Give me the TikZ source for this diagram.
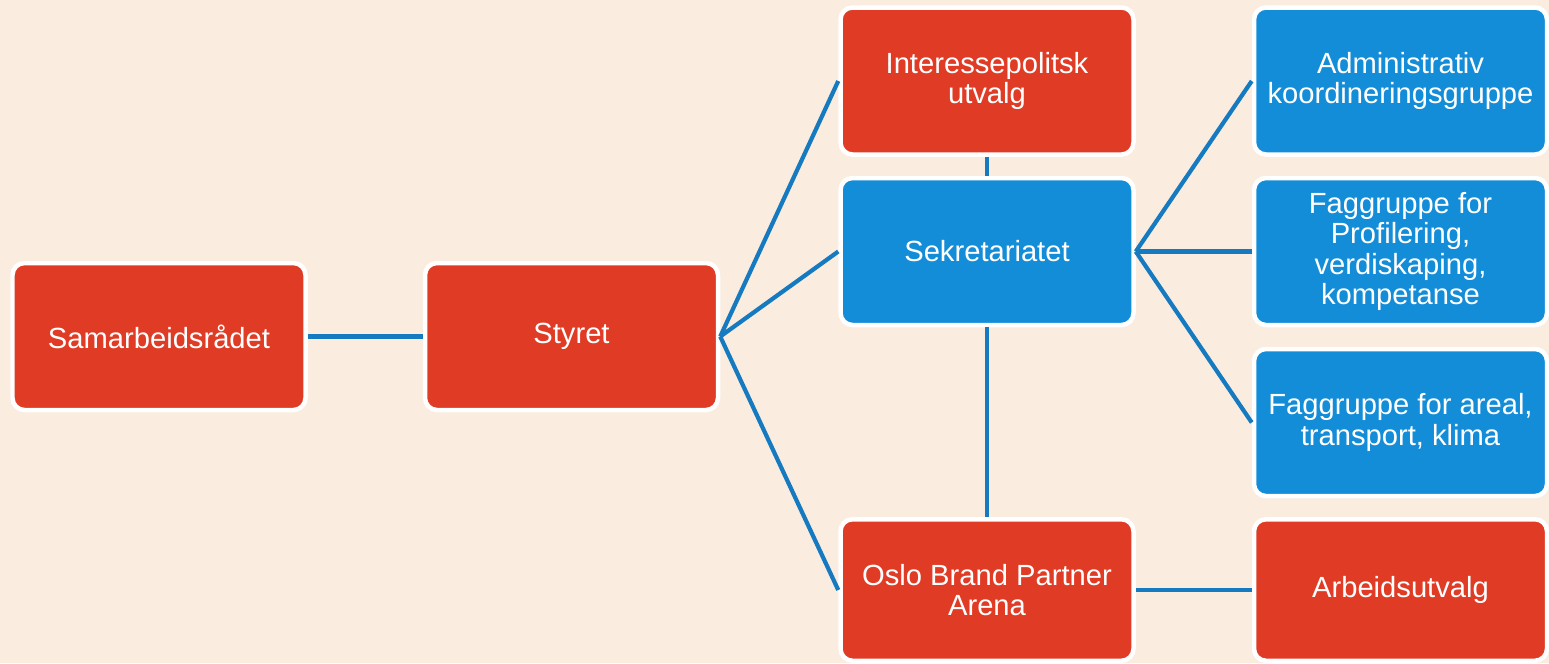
\documentclass[tikz,border=0pt]{standalone}
\usepackage{fontspec}
\setmainfont{Liberation Sans}
\usepackage{tikz}
\usetikzlibrary{positioning}
\definecolor{boxred}{RGB}{224,59,37}
\definecolor{boxblue}{RGB}{20,141,217}
\definecolor{linkblue}{RGB}{22,122,192}
\definecolor{paper}{RGB}{250,236,223}

\begin{document}
\begin{tikzpicture}[
    auto,
    node distance=4.125cm,
    font=\fontsize{8.3}{8.6}\selectfont,
    unit/.style={
		rectangle,
		rounded corners=0.12cm,
		draw=white,
		line width=0.045cm,
		text=white,
		align=center,
		minimum width=2.93cm,
		minimum height=1.47cm
	},
	redunit/.style={unit, fill=boxred},
	blueunit/.style={unit, fill=boxblue},
	lowrow/.style={minimum height=1.415cm},
	link/.style={
		draw=linkblue,
		line width=0.042cm
	}
  ]
  \useasboundingbox [fill=paper] (0,0) rectangle (15.49,-6.63);

    % We start by placing the blocks
  \node [redunit] (samar) at (1.59,-3.365) {Samarbeidsrådet};
  \node [redunit, right of=samar] (styret) {Styret};

  \node [blueunit, right of=styret, node distance=4.155cm, yshift=0.85cm] (sekr) {Sekretariatet};
  \node [redunit, above of=sekr, node distance=1.705cm] (inter) {Interessepolitsk\\utvalg};
  \node [redunit, lowrow, below of=sekr, node distance=3.385cm] (oslo) {Oslo Brand Partner\\Arena};

  \node [blueunit, right of=inter, node distance=4.135cm] (admin) {Administrativ\\koordineringsgruppe};
  \node [blueunit, right of=sekr, node distance=4.135cm] (profil) {Faggruppe for\\Profilering,\\verdiskaping,\\kompetanse};
  \node [blueunit, below of=profil, node distance=1.71cm] (areal) {Faggruppe for areal,\\transport, klima};
  \node [redunit, lowrow, right of=oslo, node distance=4.135cm] (arbeid) {Arbeidsutvalg};

 \draw [link] (samar) -- (styret);
 \draw [link] (styret.east) -- (inter.west);
 \draw [link] (styret.east) -- (sekr.west);
 \draw [link] (styret.east) -- (oslo.west);
 \draw [link] (inter) -- (sekr);
 \draw [link] (sekr) -- (oslo);
 \draw [link] (sekr.east) -- (admin.west);
 \draw [link] (sekr.east) -- (profil.west);
 \draw [link] (sekr.east) -- (areal.west);
 \draw [link] (oslo) -- (arbeid);

\end{tikzpicture}
\end{document}
